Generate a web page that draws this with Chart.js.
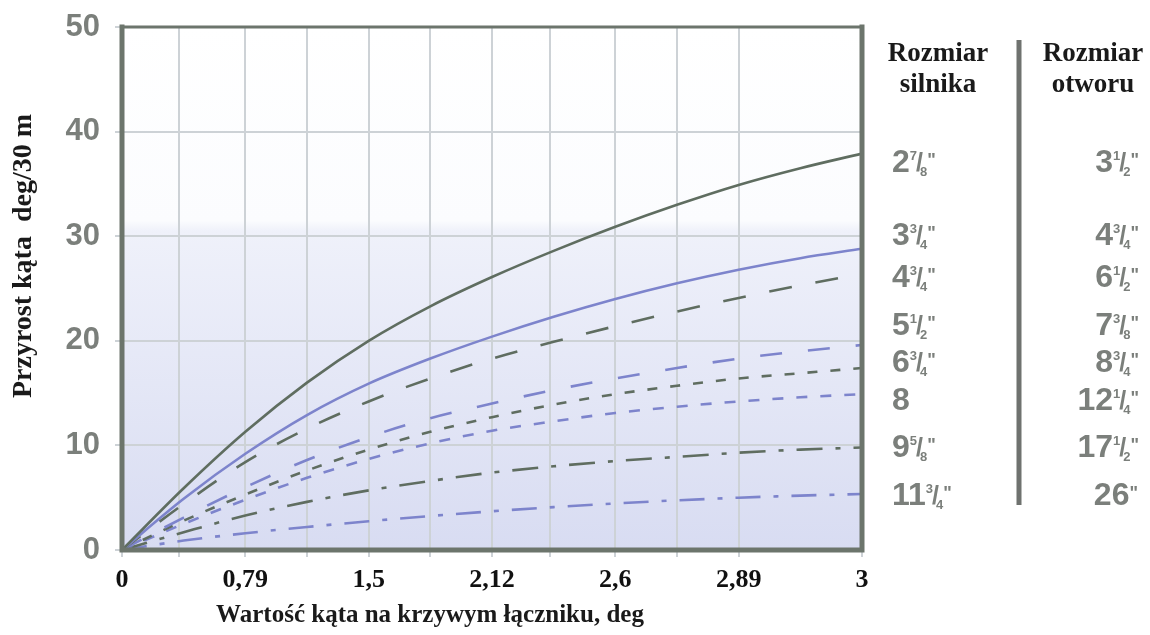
<!DOCTYPE html>
<html><head><meta charset="utf-8">
<script src="https://cdn.jsdelivr.net/npm/chart.js@4"></script>
<style>html,body{margin:0;padding:0;background:#fff}canvas{display:block}</style>
</head><body>
<canvas id="c" width="1150" height="635"></canvas>
<script>
// ---- data ----
const xPositions = [0, 0.5, 1, 1.5, 2, 2.5, 3, 3.5, 4, 4.5, 5, 5.5, 6];
const xTickLabels = ['0', '0,79', '1,5', '2,12', '2,6', '2,89', '3'];
const xGridTicks = [0, 0.46, 1, 1.5, 2, 2.5, 3, 3.47, 4, 4.5, 5, 6];
const yTickValues = [0, 10, 20, 30, 40, 50];
const s1 = [0, 5.9, 11.3, 16.0, 20.0, 23.3, 26.1, 28.6, 30.9, 33.0, 34.9, 36.5, 37.9];
const s2 = [0, 4.9, 9.2, 12.9, 15.9, 18.3, 20.4, 22.3, 24.0, 25.5, 26.8, 27.9, 28.8];
const s3 = [0, 4.4, 8.4, 11.6, 14.2, 16.4, 18.3, 19.9, 21.4, 22.8, 24.1, 25.3, 26.4];
const s4 = [0, 3.1, 6.0, 8.6, 10.8, 12.6, 14.0, 15.3, 16.4, 17.4, 18.3, 19.0, 19.6];
const s5 = [0, 2.8, 5.3, 7.6, 9.6, 11.3, 12.7, 13.9, 14.9, 15.7, 16.4, 16.9, 17.4];
const s6 = [0, 2.5, 4.8, 6.9, 8.7, 10.2, 11.4, 12.3, 13.1, 13.7, 14.2, 14.6, 14.9];
const s7 = [0, 1.7, 3.3, 4.6, 5.7, 6.6, 7.4, 8.0, 8.5, 8.9, 9.3, 9.6, 9.8];
const s8 = [0, 0.9, 1.6, 2.2, 2.75, 3.25, 3.7, 4.1, 4.45, 4.75, 5.0, 5.2, 5.35];
const motorSizes = ['2 7/8', '3 3/4', '4 3/4', '5 1/2', '6 3/4', '8', '9 5/8', '11 3/4'];
const motorInch = [true, true, true, true, true, false, true, true];
const holeSizes = ['3 1/2', '4 3/4', '6 1/2', '7 3/8', '8 3/4', '12 1/4', '17 1/2', '26'];
const yTitle = 'Przyrost kąta  deg/30 m';
const xTitle = 'Wartość kąta na krzywym łączniku, deg';
const headLeft = ['Rozmiar', 'silnika'];
const headRight = ['Rozmiar', 'otworu'];

// ---- styles ----
const DARK = '#5f6d60';
const BLUE = '#7d84cc';
const GREYTXT = '#7b7f7b';
const series = [
  {d: s1, c: DARK, dash: []},
  {d: s2, c: BLUE, dash: []},
  {d: s3, c: DARK, dash: [23, 24]},
  {d: s4, c: BLUE, dash: [22, 26]},
  {d: s5, c: DARK, dash: [10, 13]},
  {d: s6, c: BLUE, dash: [11, 13]},
  {d: s7, c: DARK, dash: [26, 13, 5, 13]},
  {d: s8, c: BLUE, dash: [25, 13, 5, 13]}
];
const datasets = series.map(s => ({
  data: s.d.map((v, i) => ({x: xPositions[i], y: v})),
  borderColor: s.c, borderWidth: 2.6, borderDash: s.dash,
  pointRadius: 0, fill: false, cubicInterpolationMode: 'monotone'
}));

const rowBaselines = [172, 245, 287, 335, 372, 410, 457, 505];

function drawSize(ctx, str, x, y, align, inch) {
  const parts = str.split(' ');
  const whole = parts[0];
  let num = null, den = null;
  if (parts[1]) { [num, den] = parts[1].split('/'); }
  const big = 'bold 32px "Liberation Sans"';
  const small = 'bold 13px "Liberation Sans"';
  const sl = 'bold 25px "Liberation Sans"';
  const inchF = 'bold 18px "Liberation Sans"';
  ctx.font = big; const wW = ctx.measureText(whole).width;
  ctx.font = small; const wN = num ? ctx.measureText(num).width : 0;
  const wD = den ? ctx.measureText(den).width : 0;
  ctx.font = sl; const wS = num ? ctx.measureText('/').width : 0;
  ctx.font = inchF; const wI = inch ? ctx.measureText('"').width : 0;
  let total = wW + (num ? wN + wS - 2 + wD - 3 : 0) + wI;
  let cx = align === 'right' ? x - total : x;
  ctx.fillStyle = GREYTXT; ctx.textAlign = 'left'; ctx.textBaseline = 'alphabetic';
  ctx.font = big; ctx.fillText(whole, cx, y); cx += wW;
  if (num) {
    ctx.font = small; ctx.fillText(num, cx, y - 12); cx += wN - 1;
    ctx.font = sl; ctx.fillText('/', cx, y - 1); cx += wS - 3;
    ctx.font = small; ctx.fillText(den, cx, y + 4); cx += wD;
  }
  if (inch) { ctx.font = inchF; ctx.fillText('"', cx, y - 6); }
}

const decor = {
  id: 'decor',
  beforeDraw(chart) {
    const {ctx, chartArea: a} = chart;
    const g = ctx.createLinearGradient(0, a.top, 0, a.bottom);
    g.addColorStop(0, '#ffffff');
    g.addColorStop(0.37, '#fbfcfe');
    g.addColorStop(0.39, '#eff1fa');
    g.addColorStop(1, '#d8dcf2');
    ctx.save(); ctx.fillStyle = g;
    ctx.fillRect(a.left, a.top, a.right - a.left, a.bottom - a.top);
    ctx.restore();
  },
  afterDraw(chart) {
    const {ctx, chartArea: a} = chart;
    ctx.save();
    ctx.strokeStyle = '#6c756c'; ctx.lineCap = 'square';
    ctx.lineWidth = 3;
    ctx.beginPath(); ctx.moveTo(a.left, a.top); ctx.lineTo(a.right, a.top); ctx.stroke();
    ctx.lineWidth = 5;
    ctx.beginPath(); ctx.moveTo(a.left, a.top); ctx.lineTo(a.left, a.bottom); ctx.lineTo(a.right, a.bottom); ctx.lineTo(a.right, a.top); ctx.stroke();
    // titles
    ctx.fillStyle = '#1a1a1a';
    ctx.font = 'bold 25px "Liberation Serif"';
    ctx.textAlign = 'center'; ctx.textBaseline = 'middle';
    ctx.fillText(xTitle, 430, 616);
    ctx.font = 'bold 28px "Liberation Serif"';
    ctx.save(); ctx.translate(24, 256); ctx.rotate(-Math.PI / 2);
    ctx.fillText(yTitle, 0, 0); ctx.restore();
    // headers
    ctx.font = 'bold 27px "Liberation Serif"'; ctx.textBaseline = 'alphabetic';
    ctx.fillText(headLeft[0], 938, 61); ctx.fillText(headLeft[1], 938, 92);
    ctx.fillText(headRight[0], 1093, 61); ctx.fillText(headRight[1], 1093, 92);
    // separator
    ctx.strokeStyle = '#6f726f'; ctx.lineWidth = 5; ctx.lineCap = 'butt';
    ctx.beginPath(); ctx.moveTo(1019, 40); ctx.lineTo(1019, 505); ctx.stroke();
    motorSizes.forEach((s, i) => drawSize(ctx, s, 892, rowBaselines[i], 'left', motorInch[i]));
    holeSizes.forEach((s, i) => drawSize(ctx, s, 1138, rowBaselines[i], 'right', true));
    ctx.restore();
  }
};

new Chart(document.getElementById('c'), {
  type: 'line',
  data: {datasets},
  options: {
    responsive: false, animation: false, devicePixelRatio: 1,
    layout: {padding: {left: 0, right: 288, top: 27, bottom: 0}},
    plugins: {legend: {display: false}, tooltip: {enabled: false}},
    scales: {
      x: {
        type: 'linear', min: 0, max: 6,
        afterBuildTicks: s => { s.ticks = xGridTicks.map(v => ({value: v})); },
        afterFit: s => { s.height = 85; s.paddingLeft = 0; s.paddingRight = 0; },
        grid: {color: '#cdd2d6', lineWidth: 2, tickLength: 7, drawOnChartArea: true},
        border: {display: false},
        ticks: {
          autoSkip: false, maxRotation: 0, padding: 8, color: '#111',
          font: {family: '"Liberation Serif"', size: 26, weight: 'bold'},
          callback: v => Number.isInteger(v) ? xTickLabels[v] : ''
        }
      },
      y: {
        min: 0, max: 50,
        afterBuildTicks: s => { s.ticks = yTickValues.map(v => ({value: v})); },
        afterFit: s => { s.width = 122; s.paddingTop = 0; s.paddingBottom = 0; },
        grid: {color: '#cdd2d6', lineWidth: 2, tickLength: 7},
        border: {display: false},
        ticks: {
          padding: 15, color: GREYTXT,
          font: {family: '"Liberation Sans"', size: 31, weight: 'bold'}
        }
      }
    }
  },
  plugins: [decor]
});
</script>
</body></html>
